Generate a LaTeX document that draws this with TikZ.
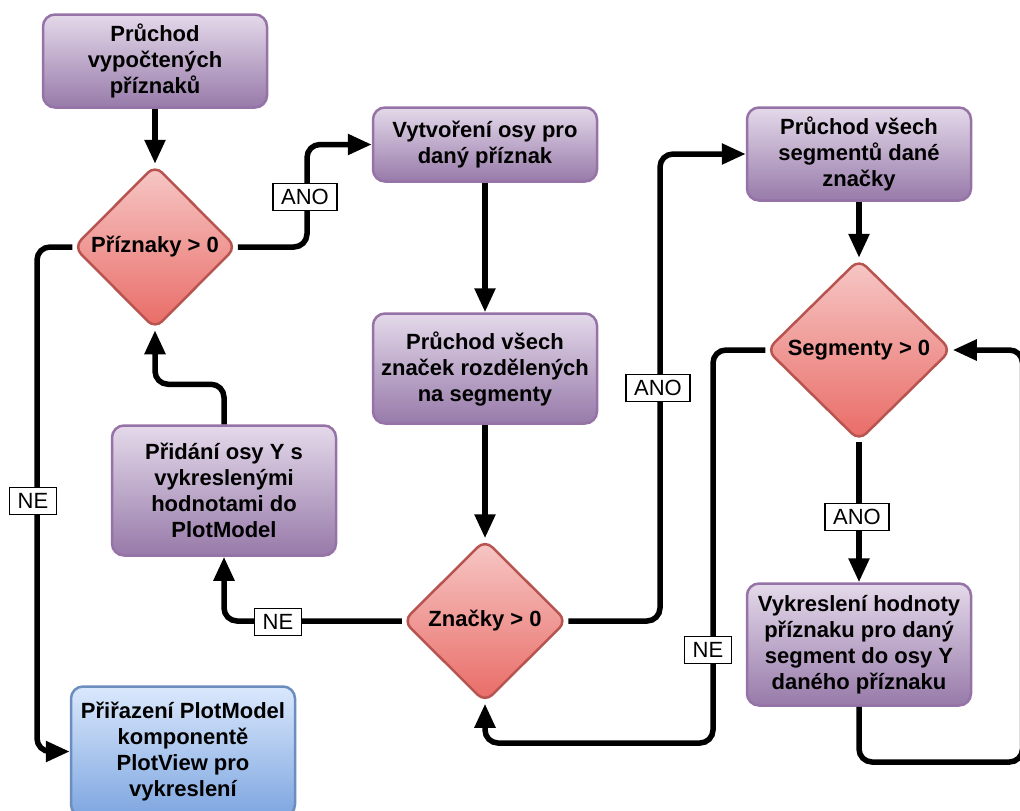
\documentclass[tikz,border=0pt]{standalone}
\usepackage{fontspec}
\setmainfont{Liberation Sans}
\usetikzlibrary{shapes.geometric,arrows.meta}

\definecolor{purpletop}{HTML}{E4D9EA}
\definecolor{purplebot}{HTML}{977AA9}
\definecolor{purpleline}{HTML}{9673A6}
\definecolor{redtop}{HTML}{F6C8C6}
\definecolor{redbot}{HTML}{E96B66}
\definecolor{redline}{HTML}{B85450}
\definecolor{bluetop}{HTML}{DAE8FC}
\definecolor{bluebot}{HTML}{7EA6E0}
\definecolor{blueline}{HTML}{6C8EBF}

\begin{document}
\begin{tikzpicture}[x=1pt,y=-1pt,
  boxtext/.style={font=\fontsize{22}{26}\selectfont\bfseries, align=center},
  box/.style={rectangle, rounded corners=12pt, line width=2.5pt, inner sep=0pt,
    minimum width=224pt, boxtext},
  procbox/.style={box, draw=purpleline, top color=purpletop, bottom color=purplebot},
  endbox/.style={box, draw=blueline, top color=bluetop, bottom color=bluebot},
  decision/.style={diamond, aspect=1, rounded corners=10pt, line width=2.5pt,
    draw=redline, top color=redtop, bottom color=redbot, inner sep=0pt, boxtext},
  link/.style={line width=5.5pt, rounded corners=13pt},
  flow/.style={link, -{Triangle[length=24pt,width=20pt]}},
  lbl/.style={draw, line width=1.4pt, fill=white, inner xsep=8pt, inner ysep=0pt,
    minimum height=27pt, font=\fontsize{22}{24}\selectfont}]

\useasboundingbox (0,0) rectangle (1020,811);
\clip (0,0) rectangle (1020,811);

% process steps
\node[procbox, minimum height=93pt]  (n1) at (155,61)    {Průchod\\vypočtených\\příznaků};
\node[procbox, minimum height=74pt]  (n2) at (485,144.5) {Vytvoření osy pro\\daný příznak};
\node[procbox, minimum height=110pt] (n3) at (485,368.5) {Průchod všech\\značek rozdělených\\na segmenty};
\node[procbox, minimum height=130pt] (n4) at (224,490.5) {Přidání osy Y s\\vykreslenými\\hodnotami do\\PlotModel};
\node[endbox,  minimum height=130pt] (n5) at (183,751.5) {Přiřazení PlotModel\\komponentě\\PlotView pro\\vykreslení};
\node[procbox, minimum height=93pt]  (n6) at (859,154)   {Průchod všech\\segmentů dané\\značky};
\node[procbox, minimum height=122pt] (n7) at (859,644.5) {Vykreslení hodnoty\\příznaku pro daný\\segment do osy Y\\daného příznaku};

% decisions
\node[decision, minimum width=163pt, minimum height=164pt] (d1) at (155,247) {Příznaky > 0};
\node[decision, minimum width=164pt, minimum height=163pt] (d2) at (485,621) {Značky > 0};
\node[decision, minimum width=185pt, minimum height=182pt] (d3) at (859,350) {Segmenty > 0};

% bend positions of the routed connectors
\coordinate (j1) at (307,0);
\coordinate (j2) at (660,0);
\coordinate (j3) at (37,0);
\coordinate (j5) at (713,743);
\coordinate (j6) at (1022.5,762);

% connectors
\draw[flow] (n1.south) -- (d1.north);
\draw[flow] (d1.east) -- (d1.east -| j1) |- (n2.west);
\draw[flow] (n2.south) -- (n3.north);
\draw[flow] (n3.south) -- (d2.north);
\draw[flow] (d2.east) -- (d2.east -| j2) |- (n6.west);
\draw[flow] (d2.west) -| (n4.south);
\draw[flow] (n4.north) -- ++(0,-40) -| (d1.south);
\draw[flow] (d1.west) -- (d1.west -| j3) |- (n5.west);
\draw[flow] (n6.south) -- (d3.north);
\draw[flow] (d3.south) -- (n7.north);
\draw[flow] (d3.west) -| (j5) -| (d2.south);
\draw[flow] (n7.south) |- (j6) |- (d3.east);

% branch labels
\node[lbl] (l1) at (305,197) {ANO};
\node[lbl] (l2) at (33,501)  {NE};
\node[lbl] (l3) at (278,622) {NE};
\node[lbl] (l4) at (658,388) {ANO};
\node[lbl] (l5) at (857,517) {ANO};
\node[lbl] (l6) at (708,650) {NE};

\end{tikzpicture}
\end{document}
